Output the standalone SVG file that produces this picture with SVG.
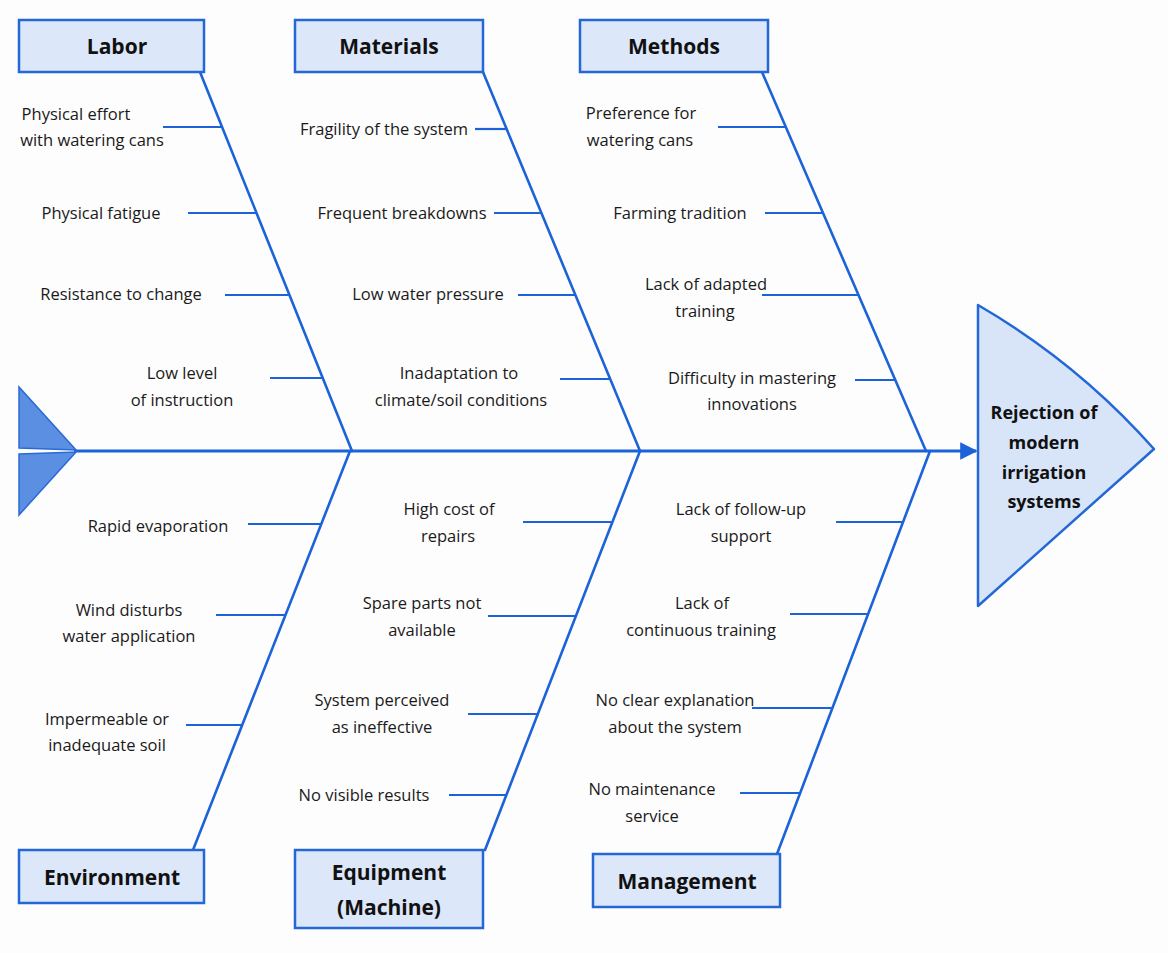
<svg xmlns="http://www.w3.org/2000/svg" width="1168" height="953" viewBox="0 0 1168 953">
<defs>
<style>
.bg{fill:#fdfdfd}
.box{fill:#dce7f9;stroke:#2368d6;stroke-width:2.5}
.title{font-family:"Open Sans","Noto Sans",sans-serif;font-weight:700;font-size:21px;fill:#111;text-anchor:middle}
.lbl{font-family:"Open Sans","Noto Sans",sans-serif;font-size:16.5px;fill:#1a1a1a;text-anchor:middle}
.head{font-family:"Open Sans","Noto Sans",sans-serif;font-weight:700;font-size:18px;fill:#111;text-anchor:middle}
.bone{stroke:#1c62d8;stroke-width:2.6;fill:none;stroke-linecap:round}
.sub{stroke:#1c62d8;stroke-width:2.2;fill:none}
.spine{stroke:#1c62d8;stroke-width:3.2;fill:none}
.tail{fill:#5b8fe2;stroke:#2a6ad8;stroke-width:1.5}
</style>
<marker id="arr" viewBox="0 0 10 10" refX="9" refY="5" markerWidth="6" markerHeight="5.5" markerUnits="strokeWidth" orient="auto">
<path d="M0,0 L10,5 L0,10 z" fill="#1c62d8"/>
</marker>
</defs>
<rect class="bg" x="0" y="0" width="1168" height="953"/>

<g id="connectors">
<line class="spine" x1="74" y1="451" x2="976" y2="451" marker-end="url(#arr)"/>
<line class="bone" x1="200" y1="72" x2="352" y2="451"/>
<line class="bone" x1="483" y1="72" x2="640" y2="451"/>
<line class="bone" x1="762" y1="72" x2="926" y2="451"/>
<line class="bone" x1="350" y1="451" x2="193" y2="850"/>
<line class="bone" x1="640" y1="451" x2="485" y2="850"/>
<line class="bone" x1="930" y1="451" x2="777" y2="854"/>
<line class="sub" x1="163" y1="127" x2="222" y2="127"/>
<line class="sub" x1="188" y1="213" x2="257" y2="213"/>
<line class="sub" x1="225" y1="295" x2="289" y2="295"/>
<line class="sub" x1="270" y1="378" x2="323" y2="378"/>
<line class="sub" x1="475" y1="129" x2="507" y2="129"/>
<line class="sub" x1="494" y1="213" x2="542" y2="213"/>
<line class="sub" x1="518" y1="295" x2="576" y2="295"/>
<line class="sub" x1="560" y1="379" x2="611" y2="379"/>
<line class="sub" x1="718" y1="127" x2="786" y2="127"/>
<line class="sub" x1="765" y1="213" x2="823" y2="213"/>
<line class="sub" x1="762" y1="295" x2="858" y2="295"/>
<line class="sub" x1="855" y1="380" x2="895" y2="380"/>
<line class="sub" x1="248" y1="524" x2="322" y2="524"/>
<line class="sub" x1="216" y1="615" x2="286" y2="615"/>
<line class="sub" x1="186" y1="725" x2="243" y2="725"/>
<line class="sub" x1="523" y1="522" x2="613" y2="522"/>
<line class="sub" x1="488" y1="616" x2="577" y2="616"/>
<line class="sub" x1="468" y1="714" x2="539" y2="714"/>
<line class="sub" x1="449" y1="795" x2="507" y2="795"/>
<line class="sub" x1="836" y1="522" x2="903" y2="522"/>
<line class="sub" x1="790" y1="614" x2="868" y2="614"/>
<line class="sub" x1="752" y1="708" x2="833" y2="708"/>
<line class="sub" x1="740" y1="793" x2="800" y2="793"/>
</g>

<g id="tail">
<polygon class="tail" points="19,387 19,448 76,450"/>
<polygon class="tail" points="19,454 76,452 19,515"/>
</g>

<g id="effect">
<path d="M978,305 Q1078,363 1154,449 L978,606 Z" fill="#d8e5f8" stroke="#2368d6" stroke-width="2.5" stroke-linejoin="round"/>
<text class="head" x="1044" y="419">Rejection of</text>
<text class="head" x="1044" y="449">modern</text>
<text class="head" x="1044" y="479">irrigation</text>
<text class="head" x="1044" y="508">systems</text>
</g>

<g id="labor">
<rect class="box" x="19" y="20" width="185" height="52"/>
<text class="title" x="117" y="54">Labor</text>
<text class="lbl" x="76" y="120">Physical effort</text>
<text class="lbl" x="92" y="146">with watering cans</text>
<text class="lbl" x="101" y="219">Physical fatigue</text>
<text class="lbl" x="121" y="300">Resistance to change</text>
<text class="lbl" x="182" y="379">Low level</text>
<text class="lbl" x="182" y="406">of instruction</text>
</g>

<g id="materials">
<rect class="box" x="295" y="20" width="188" height="52"/>
<text class="title" x="389" y="54">Materials</text>
<text class="lbl" x="384" y="135">Fragility of the system</text>
<text class="lbl" x="402" y="219">Frequent breakdowns</text>
<text class="lbl" x="428" y="300">Low water pressure</text>
<text class="lbl" x="459" y="379">Inadaptation to</text>
<text class="lbl" x="461" y="406">climate/soil conditions</text>
</g>

<g id="methods">
<rect class="box" x="580" y="20" width="188" height="52"/>
<text class="title" x="674" y="54">Methods</text>
<text class="lbl" x="641" y="119">Preference for</text>
<text class="lbl" x="640" y="146">watering cans</text>
<text class="lbl" x="680" y="219">Farming tradition</text>
<text class="lbl" x="706" y="290">Lack of adapted</text>
<text class="lbl" x="705" y="317">training</text>
<text class="lbl" x="752" y="384">Difficulty in mastering</text>
<text class="lbl" x="752" y="410">innovations</text>
</g>

<g id="environment">
<rect class="box" x="19" y="850" width="185" height="53"/>
<text class="title" x="112" y="885">Environment</text>
<text class="lbl" x="158" y="532">Rapid evaporation</text>
<text class="lbl" x="129" y="616">Wind disturbs</text>
<text class="lbl" x="129" y="642">water application</text>
<text class="lbl" x="107" y="725">Impermeable or</text>
<text class="lbl" x="107" y="751">inadequate soil</text>
</g>

<g id="equipment">
<rect class="box" x="295" y="850" width="188" height="78"/>
<text class="title" x="389" y="880">Equipment</text>
<text class="title" x="389" y="915">(Machine)</text>
<text class="lbl" x="449" y="515">High cost of</text>
<text class="lbl" x="448" y="542">repairs</text>
<text class="lbl" x="422" y="609">Spare parts not</text>
<text class="lbl" x="422" y="636">available</text>
<text class="lbl" x="382" y="706">System perceived</text>
<text class="lbl" x="382" y="733">as ineffective</text>
<text class="lbl" x="364" y="801">No visible results</text>
</g>

<g id="management">
<rect class="box" x="593" y="854" width="187" height="53"/>
<text class="title" x="687" y="889">Management</text>
<text class="lbl" x="741" y="515">Lack of follow-up</text>
<text class="lbl" x="741" y="542">support</text>
<text class="lbl" x="702" y="609">Lack of</text>
<text class="lbl" x="701" y="636">continuous training</text>
<text class="lbl" x="675" y="706">No clear explanation</text>
<text class="lbl" x="675" y="733">about the system</text>
<text class="lbl" x="652" y="795">No maintenance</text>
<text class="lbl" x="652" y="822">service</text>
</g>
</svg>
